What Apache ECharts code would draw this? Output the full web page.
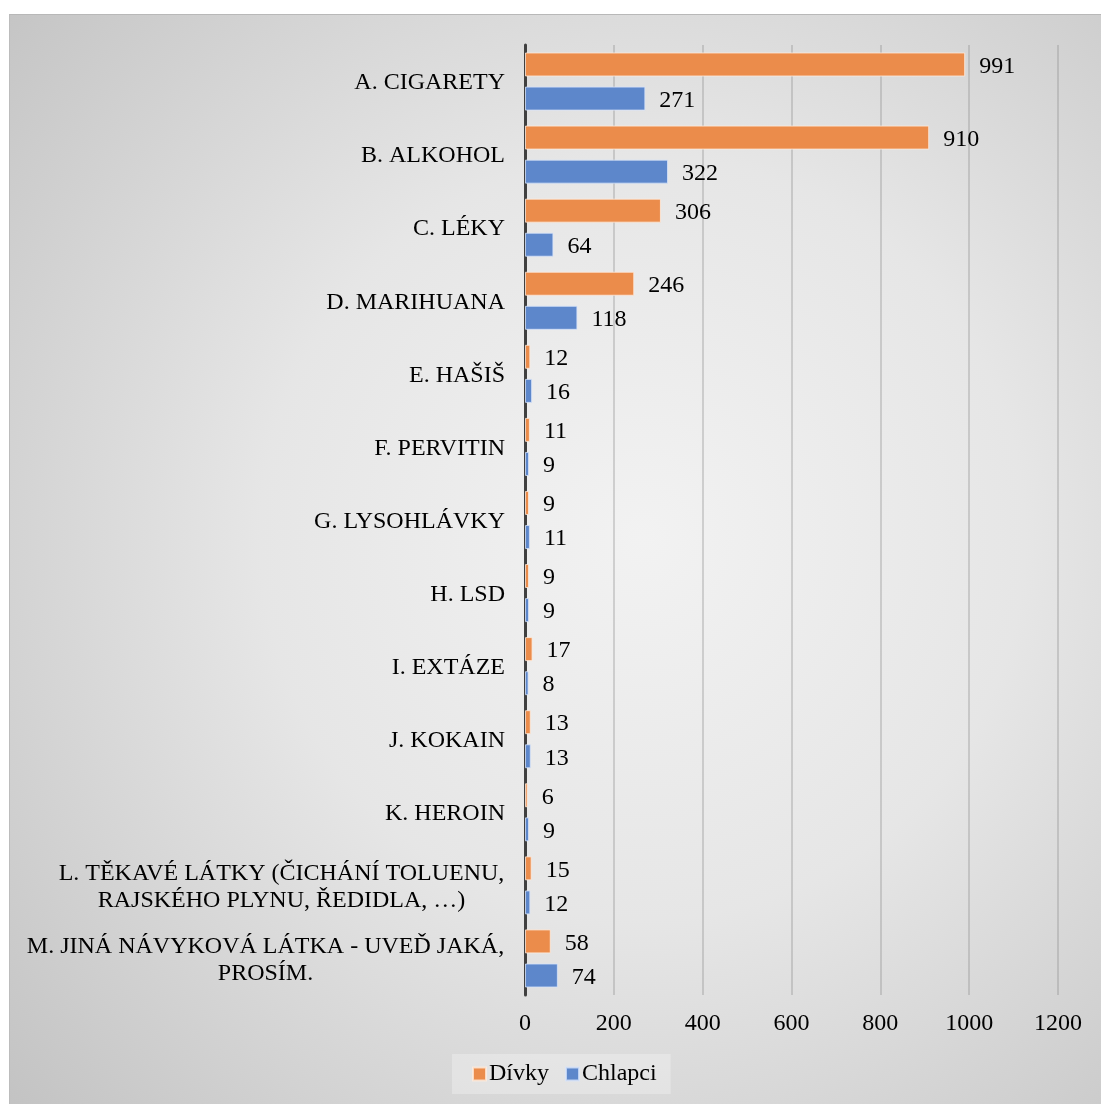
<!DOCTYPE html>
<html>
<head>
<meta charset="utf-8">
<script src="https://cdn.jsdelivr.net/npm/echarts@6/dist/echarts.min.js"></script>
<style>
html,body{margin:0;padding:0;background:#fff;width:1101px;height:1104px;overflow:hidden;}
#chart{position:absolute;left:9px;top:14px;width:1092px;height:1090px;border-top:1px solid #b8b8b8;border-left:1px solid #bcbcbc;box-sizing:border-box;}
</style>
</head>
<body>
<div id="chart"></div>
<script>
const categories = [
  'A. CIGARETY',
  'B. ALKOHOL',
  'C. LÉKY',
  'D. MARIHUANA',
  'E. HAŠIŠ',
  'F. PERVITIN',
  'G. LYSOHLÁVKY',
  'H. LSD',
  'I. EXTÁZE',
  'J. KOKAIN',
  'K. HEROIN',
  'L. TĚKAVÉ LÁTKY (ČICHÁNÍ TOLUENU,\nRAJSKÉHO PLYNU, ŘEDIDLA, …)',
  'M. JINÁ NÁVYKOVÁ LÁTKA - UVEĎ JAKÁ,\nPROSÍM.'
];
const divky = [991, 910, 306, 246, 12, 11, 9, 9, 17, 13, 6, 15, 58];
const chlapci = [271, 322, 64, 118, 16, 9, 11, 9, 8, 13, 9, 12, 74];
const seriesNames = ['Dívky', 'Chlapci'];
const xTicks = [0, 200, 400, 600, 800, 1000, 1200];

const FONT = '"Liberation Serif", "Times New Roman", serif';
const FS = 24;
const ORANGE = '#EB8C4B';
const BLUE = '#5D87CB';

const cnv = document.createElement('canvas').getContext('2d');
cnv.font = FS + 'px ' + FONT;
const rich = {};
categories.forEach((c, i) => {
  const lines = c.split('\n');
  const w = Math.max(...lines.map(l => cnv.measureText(l).width));
  rich['c' + i] = {width: Math.ceil(w) + 1, align: 'center', fontFamily: FONT, fontSize: FS, color: '#000', lineHeight: 27};
});

const chart = echarts.init(document.getElementById('chart'), null, {renderer: 'canvas'});
chart.setOption({
  animation: false,
  backgroundColor: {
    type: 'radial', x: 0.58, y: 0.48, r: 0.78,
    colorStops: [
      {offset: 0, color: '#f2f2f2'},
      {offset: 0.45, color: '#e6e6e6'},
      {offset: 1, color: '#c3c3c3'}
    ]
  },
  textStyle: {fontFamily: FONT},
  grid: {left: 515, right: 43, top: 30, bottom: 109, containLabel: false},
  legend: {
    data: seriesNames,
    left: 442, top: 1039,
    backgroundColor: 'rgba(255,255,255,0.28)',
    padding: [8, 14, 8, 20],
    icon: 'rect', itemWidth: 13, itemHeight: 13, itemGap: 16,
    textStyle: {fontFamily: FONT, fontSize: FS, color: '#000', padding: [2, 0, 0, -2]}
  },
  xAxis: {
    type: 'value', min: xTicks[0], max: xTicks[xTicks.length - 1], interval: 200,
    axisLine: {show: false}, axisTick: {show: false},
    splitLine: {show: true, lineStyle: {color: 'rgba(140,140,140,0.45)', width: 1.5}},
    axisLabel: {fontFamily: FONT, fontSize: FS, color: '#000', margin: 17, formatter: v => String(v)}
  },
  yAxis: {
    type: 'category', data: categories, inverse: true,
    axisLine: {show: true, lineStyle: {color: '#404040', width: 3}},
    axisTick: {show: false},
    axisLabel: {
      fontFamily: FONT, fontSize: FS, color: '#000', margin: 20, lineHeight: 27,
      padding: [3, 0, 0, 0],
      rich: rich,
      formatter: function (v, i) {
        const lines = v.split('\n');
        if (lines.length === 1) return v;
        return lines.map(l => '{c' + i + '|' + l + '}').join('\n');
      }
    }
  },
  series: [
    {
      name: seriesNames[0], type: 'bar', data: divky, barWidth: 24, barGap: '42%',
      itemStyle: {color: ORANGE, borderColor: 'rgba(255,235,220,0.8)', borderWidth: 1},
      label: {show: true, position: 'right', distance: 14, offset: [0, 2], fontFamily: FONT, fontSize: FS, color: '#000'}
    },
    {
      name: seriesNames[1], type: 'bar', data: chlapci, barWidth: 24, barGap: '42%',
      itemStyle: {color: BLUE, borderColor: 'rgba(215,228,250,0.8)', borderWidth: 1},
      label: {show: true, position: 'right', distance: 14, offset: [0, 2], fontFamily: FONT, fontSize: FS, color: '#000'}
    }
  ]
});
</script>
</body>
</html>
